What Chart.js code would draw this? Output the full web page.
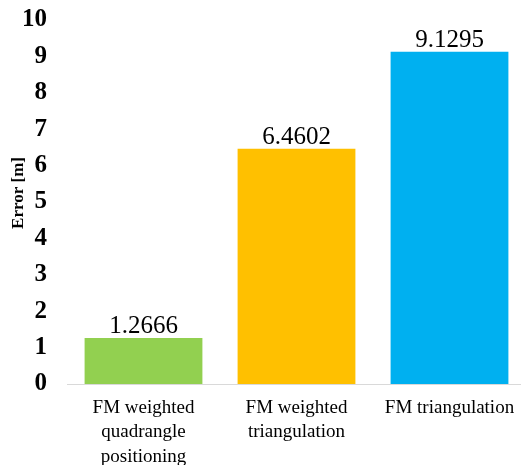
<!DOCTYPE html>
<html>
<head>
<meta charset="utf-8">
<script src="https://cdn.jsdelivr.net/npm/chart.js@4/dist/chart.umd.min.js"></script>
<style>
  html, body { margin: 0; padding: 0; background: #fff; overflow: hidden; }
  #wrap { width: 526px; height: 472px; margin-top: -7px; }
</style>
</head>
<body>
<div id="wrap"><canvas id="c" width="526" height="472"></canvas></div>
<script>
const categories = [
  ['FM weighted', 'quadrangle', 'positioning'],
  ['FM weighted', 'triangulation'],
  ['FM triangulation']
];
const errors = [1.2666, 6.4602, 9.1295];
const barColors = ['#92D050', '#FFC000', '#00B0F0'];
const yTicks = [0, 1, 2, 3, 4, 5, 6, 7, 8, 9, 10];
const yTitle = 'Error [m]';

const SERIF = '"Liberation Serif", "Times New Roman", serif';

// Writes each bar's value just above it
const valueLabels = {
  id: 'valueLabels',
  afterDatasetsDraw(chart) {
    const { ctx } = chart;
    const meta = chart.getDatasetMeta(0);
    ctx.save();
    ctx.font = '25px ' + SERIF;
    ctx.fillStyle = '#000';
    ctx.textAlign = 'center';
    ctx.textBaseline = 'alphabetic';
    meta.data.forEach((bar, i) => {
      ctx.fillText(errors[i].toFixed(4), bar.x, bar.y - 5);
    });
    ctx.restore();
  }
};

// Vertical axis title, set a little above the middle of the axis
const axisTitle = {
  id: 'axisTitle',
  afterDraw(chart) {
    const { ctx, chartArea } = chart;
    ctx.save();
    ctx.font = 'bold 17px ' + SERIF;
    ctx.fillStyle = '#000';
    ctx.textAlign = 'center';
    ctx.textBaseline = 'middle';
    ctx.translate(19, (chartArea.top + chartArea.bottom) / 2 - 9);
    ctx.rotate(-Math.PI / 2);
    ctx.fillText(yTitle, 0, 0);
    ctx.restore();
  }
};

new Chart(document.getElementById('c'), {
  type: 'bar',
  data: {
    labels: categories,
    datasets: [{
      data: errors,
      backgroundColor: barColors,
      borderWidth: 0,
      barPercentage: 0.77,
      categoryPercentage: 1.0
    }]
  },
  options: {
    responsive: false,
    animation: false,
    devicePixelRatio: 1,
    layout: { padding: { top: 0, right: 0, bottom: 0, left: 0 } },
    plugins: {
      legend: { display: false },
      tooltip: { enabled: false }
    },
    scales: {
      x: {
        grid: { display: false },
        border: { display: true, color: '#d9d9d9', width: 1 },
        ticks: {
          color: '#000',
          font: { family: SERIF, size: 19, lineHeight: 1.28 },
          padding: 4,
          maxRotation: 0,
          autoSkip: false
        },
        afterFit(scale) { scale.height = 81; }
      },
      y: {
        min: 0,
        max: 10,
        afterBuildTicks(scale) { scale.ticks = yTicks.map(v => ({ value: v })); },
        grid: { display: false },
        border: { display: false },
        ticks: {
          color: '#000',
          font: { family: SERIF, size: 25, weight: 'bold' },
          padding: 12
        },
        afterFit(scale) { scale.width = 67; }
      }
    }
  },
  plugins: [valueLabels, axisTitle]
});
</script>
</body>
</html>
